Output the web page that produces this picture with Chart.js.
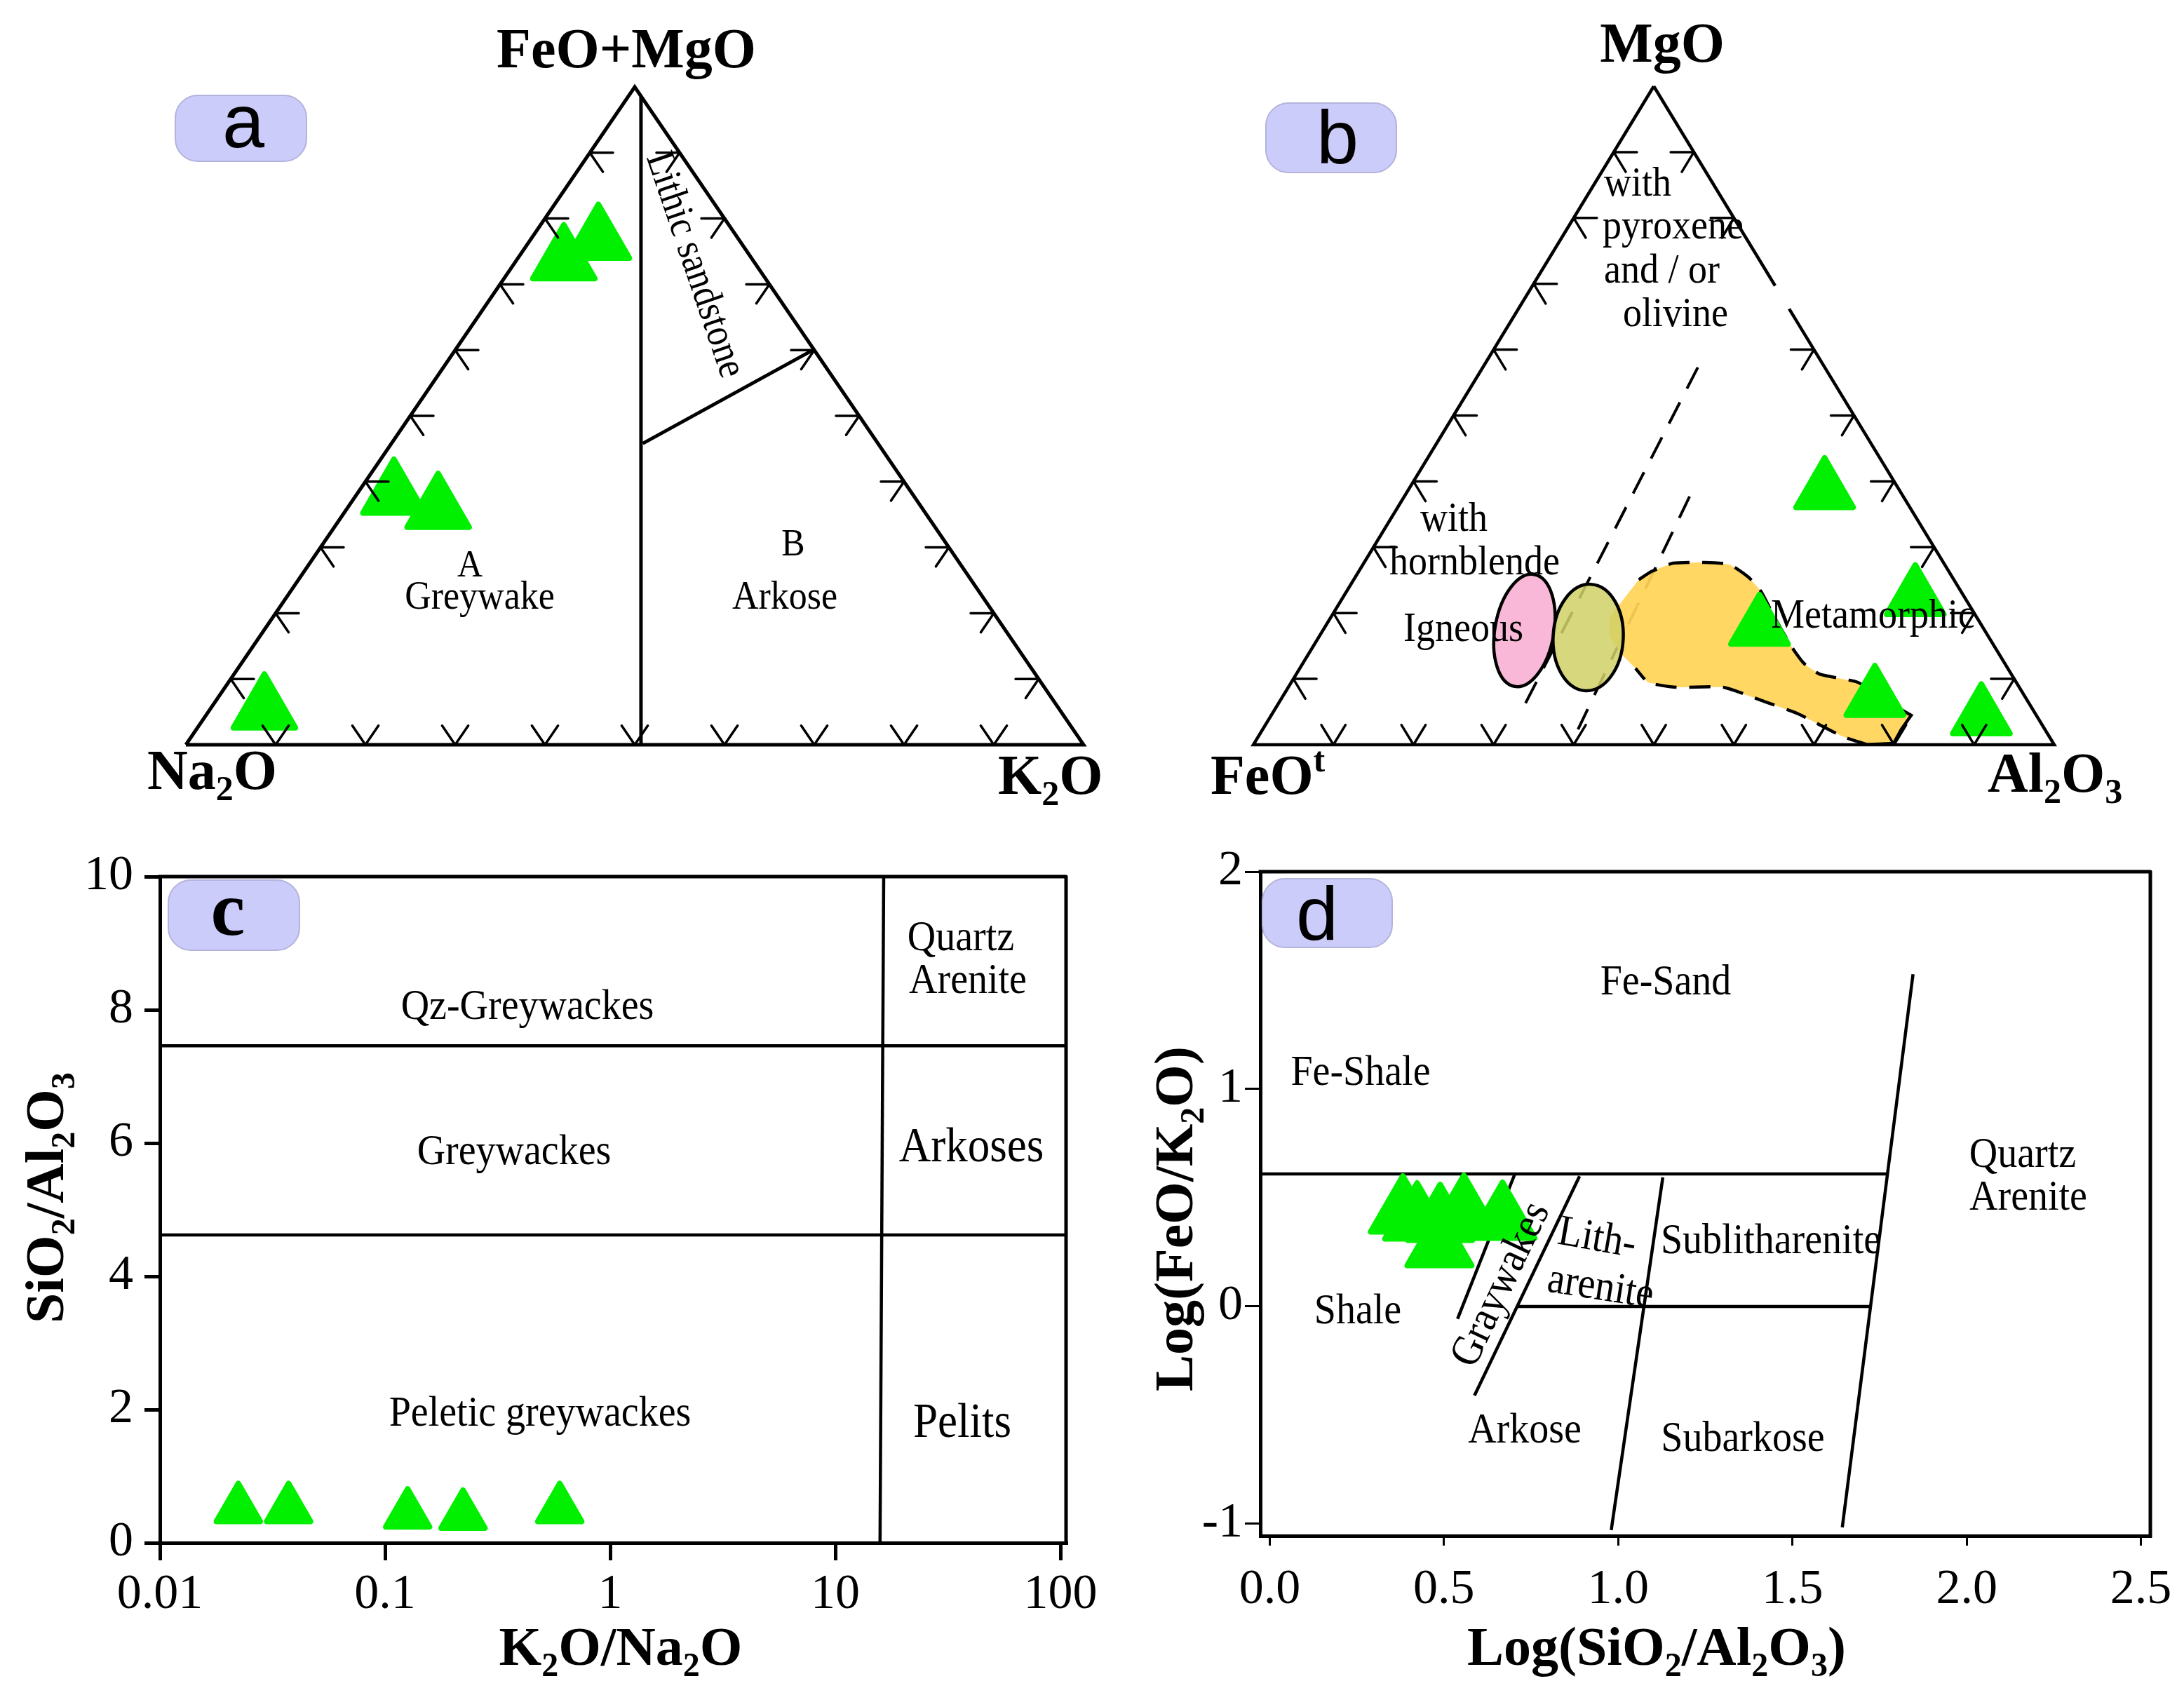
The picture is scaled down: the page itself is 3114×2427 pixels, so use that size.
<!DOCTYPE html>
<html><head><meta charset="utf-8">
<script src="https://cdn.jsdelivr.net/npm/chart.js@4.4.1/dist/chart.umd.min.js"></script>
<style>
html,body{margin:0;padding:0;background:#fff;}
body{width:3114px;height:2427px;position:relative;overflow:hidden;}
canvas{position:absolute;left:0;top:0;width:3114px;height:2427px;}
</style></head><body>
<canvas id="ca" width="3114" height="2427"></canvas>
<canvas id="cb" width="3114" height="2427"></canvas>
<canvas id="cc" width="3114" height="2427"></canvas>
<canvas id="cd" width="3114" height="2427"></canvas>
<script>
// ================= DATA =================
// (a) Na2O - K2O - (FeO+MgO), fractions
const aNa2O   = [0.157, 0.211, 0.579, 0.540, 0.886];
const aK2O    = [0.076, 0.053, 0.042, 0.102, 0.061];
const aFeOMgO = [0.767, 0.736, 0.380, 0.358, 0.053];
// (b) FeOt - Al2O3 - MgO, fractions
const bFeOt  = [0.094, 0.062, 0.279, 0.189, 0.070];
const bAl2O3 = [0.521, 0.715, 0.543, 0.741, 0.888];
const bMgO   = [0.386, 0.223, 0.178, 0.070, 0.042];
// (c) K2O/Na2O vs SiO2/Al2O3
const cK2O_Na2O   = [0.0223, 0.0373, 0.126, 0.222, 0.597];
const cSiO2_Al2O3 = [0.51, 0.51, 0.43, 0.41, 0.51];
// (d) log(SiO2/Al2O3) vs log(FeO/K2O)
const dLogSiO2_Al2O3 = [0.382, 0.423, 0.489, 0.557, 0.668, 0.487];
const dLogFeO_K2O    = [0.429, 0.397, 0.390, 0.432, 0.400, 0.274];
// tick labels
const cXTicks = [0.01, 0.1, 1, 10, 100];
const cYTicks = [0, 2, 4, 6, 8, 10];
const dXTicks = [0, 0.5, 1, 1.5, 2, 2.5];
const dYTicks = [-1, 0, 1, 2];
// field boundaries (ternary diagram units: x along base, y = apex-component fraction)
const aBoundaries = [
  [[0.507, 0.985], [0.507, 0]],
  [[0.509, 0.458], [0.701, 0.602]]
];
const bDashed = [
  [[0.555, 0.573], [0.3366, 0.0554]],
  [[0.5447, 0.377], [0.4054, 0.0234]]
];
const bMetamorphicField = [
  [0.445,0.1938],[0.4813,0.2506],[0.4969,0.2630],[0.5243,0.2758],[0.5630,0.2769],
  [0.5946,0.2737],[0.6182,0.2545],[0.6337,0.2332],[0.6506,0.1938],[0.6725,0.1480],
  [0.6883,0.1225],[0.7080,0.1068],[0.7548,0.0948],[0.7907,0.0660],[0.8214,0.0447],
  [0.8091,0.0234],[0.7995,0.0021],
  [0.7666,0.0003],[0.7356,0.0128],[0.6804,0.0469],[0.6375,0.0660],[0.5867,0.0873],
  [0.5280,0.0873],[0.4930,0.0948],[0.4772,0.1161],[0.4600,0.1374],[0.445,0.1651],
  [0.445,0.1938]
];
const bIgneousCenters = [[0.3385, 0.1736], [0.4181, 0.1629]];
const bIgneousRadii   = [[0.0368, 0.0863], [0.0438, 0.0809]];
const bIgneousTilt    = [10, 3];
const C_XMIN = 0.01, C_XMAX = 105.9;
const cBoundaries = [
  [[C_XMIN, 7.46], [C_XMAX, 7.46]],
  [[C_XMIN, 4.62], [C_XMAX, 4.62]],
  [[16.4, 10], [15.8, 0]]
];
const D_XMIN = -0.027, D_XMAX = 2.527, D_YMIN = -1.055, D_YMAX = 2.0;
const dBoundaries = [
  [[D_XMIN, 0.61], [1.773, 0.61]],
  [[1.846, 1.528], [1.643, -1.016]],
  [[0.712, 0.0], [1.724, 0.0]],
  [[1.128, 0.594], [0.98, -1.029]],
  [[0.889, 0.599], [0.5875, -0.41]],
  [[0.704, 0.612], [0.539, -0.057]]
];

// ================= STYLE / HELPERS =================
const SERIF = "'Liberation Serif','Times New Roman',serif";
const SANS = "'Liberation Sans',Arial,sans-serif";
const GREEN = '#00f000';
const W = 3114, H = 2427;

function tern(left, right, top) {
  const s = left + right + top;
  return { x: (right + top / 2) / s, y: top / s };
}
const xy = p => ({ x: p[0], y: p[1] });

function richText(ctx, parts, x, y, o) {
  const fs = o.size, w8 = o.bold ? 'bold ' : '', fam = o.family || SERIF;
  const fN = w8 + fs + 'px ' + fam, fS = w8 + Math.round(fs * 0.62) + 'px ' + fam;
  let w = 0;
  for (const [t, m] of parts) { ctx.font = m ? fS : fN; w += ctx.measureText(t).width; }
  let cx = o.align === 'center' ? x - w / 2 : (o.align === 'right' ? x - w : x);
  ctx.textAlign = 'left';
  ctx.textBaseline = o.baseline || 'alphabetic';
  ctx.fillStyle = '#000';
  for (const [t, m] of parts) {
    ctx.font = m ? fS : fN;
    const dy = m === 1 ? fs * 0.2 : (m === 2 ? -fs * 0.4 : 0);
    ctx.fillText(t, cx, y + dy);
    cx += ctx.measureText(t).width;
  }
}
// sq: horizontal squeeze (text drawn taller for the same width)
function label(ctx, text, x, y, size, opts = {}) {
  const sq = opts.sq || 1;
  ctx.save();
  ctx.translate(x, y);
  if (opts.rot) ctx.rotate(opts.rot * Math.PI / 180);
  ctx.scale(sq, 1);
  richText(ctx, typeof text === 'string' ? [[text, 0]] : text, 0, 0,
    { size: size / sq, bold: opts.bold, align: opts.align || 'center', baseline: opts.baseline, family: opts.family });
  ctx.restore();
}
function badge(ctx, x, y, w, h, ch, bx, by, font) {
  ctx.save();
  ctx.beginPath(); ctx.roundRect(x, y, w, h, 32);
  ctx.fillStyle = '#ccccfb'; ctx.fill();
  ctx.strokeStyle = '#b3b3dc'; ctx.lineWidth = 2; ctx.stroke();
  ctx.fillStyle = '#000'; ctx.font = font; ctx.textAlign = 'center'; ctx.textBaseline = 'alphabetic';
  ctx.fillText(ch, bx, by);
  ctx.restore();
}
function ternTicks(chart, gap) {
  const { ctx } = chart, sx = chart.scales.x, sy = chart.scales.y;
  const P = (u, v) => [sx.getPixelForValue(u), sy.getPixelForValue(v)];
  const L = P(0, 0), R = P(1, 0), A = P(0.5, 1);
  const nrm = v => { const l = Math.hypot(v[0], v[1]); return [v[0] / l, v[1] / l]; };
  const dLA = nrm([A[0] - L[0], A[1] - L[1]]), dRA = nrm([A[0] - R[0], A[1] - R[1]]);
  const len = 33;
  ctx.save(); ctx.strokeStyle = '#000'; ctx.lineWidth = 3.5; ctx.lineCap = 'round'; ctx.beginPath();
  const stub = (p, d) => { ctx.moveTo(p[0], p[1]); ctx.lineTo(p[0] + d[0] * len, p[1] + d[1] * len); };
  for (let k = 1; k <= 9; k++) {
    const f = k / 10;
    const pb = P(f, 0); stub(pb, dLA); stub(pb, dRA);
    const pl = P(f / 2, f); stub(pl, [1, 0]); stub(pl, [-dRA[0], -dRA[1]]);
    if (!(gap && f >= gap[0] - 0.01 && f <= gap[1] + 0.01)) {
      const pr = P(1 - f / 2, f); stub(pr, [-1, 0]); stub(pr, [-dLA[0], -dLA[1]]);
    }
  }
  ctx.stroke(); ctx.restore();
}
function deco(hooks) {
  return {
    id: 'deco',
    beforeDatasetDraw(chart, args) {
      if (args.index === 0) {
        chart.ctx.lineJoin = 'round';
        if (hooks.beforePoints) hooks.beforePoints(chart);
      }
    },
    afterDatasetsDraw(chart) {
      const ctx = chart.ctx;
      ctx.save(); hooks.after(ctx, chart); ctx.restore();
    }
  };
}
function lineDS(pts, extra = {}) {
  return Object.assign({ type: 'line', data: pts.map(xy), showLine: true, pointRadius: 0,
    borderColor: '#000', borderWidth: 5, fill: false, tension: 0, clip: false }, extra);
}
function pointDS(pts, r) {
  return { type: 'line', data: pts, showLine: false, pointStyle: 'triangle', pointRadius: r,
    pointHoverRadius: r, backgroundColor: GREEN, borderColor: GREEN, pointBorderWidth: 8,
    borderWidth: 8, clip: false };
}
const hidden = (min, max) => ({ type: 'linear', min, max, display: false });
const baseOpts = (padding, scales) => ({
  responsive: false, animation: false, events: [], devicePixelRatio: 1,
  layout: { padding, autoPadding: false },
  plugins: { legend: { display: false }, tooltip: { enabled: false } },
  scales
});
function axisCommon(extra) {
  return Object.assign({ border: { display: true, color: '#000', width: 5 } }, extra);
}
function frameTopRight(chart) {
  const { ctx, chartArea: a } = chart;
  ctx.save(); ctx.strokeStyle = '#000'; ctx.lineWidth = 5; ctx.lineCap = 'square';
  ctx.beginPath(); ctx.moveTo(a.left, a.top); ctx.lineTo(a.right, a.top); ctx.lineTo(a.right, a.bottom); ctx.stroke();
  ctx.restore();
}
const SQ = 0.9;

// ================= PANEL A =================
new Chart(document.getElementById('ca'), {
  type: 'line',
  data: { datasets: [
    pointDS(aNa2O.map((n, i) => tern(n, aK2O[i], aFeOMgO[i])), 51),
    lineDS([[0, 0], [1, 0], [0.5, 1], [0, 0]], { borderWidth: 5 }),
    ...aBoundaries.map(b => lineDS(b))
  ]},
  options: baseOpts({ left: 265, right: W - 1545, top: 124, bottom: H - 1062 }, { x: hidden(0, 1), y: hidden(0, 1) }),
  plugins: [deco({
    after: (ctx, chart) => {
      ternTicks(chart);
      label(ctx, [['FeO+MgO', 0]], 893, 96, 80, { bold: true });
      label(ctx, [['Na', 0], ['2', 1], ['O', 0]], 210, 1125, 80, { bold: true, align: 'left' });
      label(ctx, [['K', 0], ['2', 1], ['O', 0]], 1423, 1132, 80, { bold: true, align: 'left' });
      label(ctx, 'A', 670, 822, 50, { sq: SQ });
      label(ctx, 'Greywake', 684, 868, 52, { sq: SQ });
      label(ctx, 'B', 1131, 792, 50, { sq: SQ });
      label(ctx, 'Arkose', 1119, 868, 52, { sq: SQ });
      label(ctx, 'Lithic sandstone', 990, 378, 51, { rot: 71.2, baseline: 'middle', sq: 0.88 });
      badge(ctx, 250, 136, 187, 94, 'a', 347, 210, '108px ' + SANS);
    }
  })]
});

// ================= PANEL B =================
const gapB = [0.662, 0.697];
const outline = { borderWidth: 4.5, borderDash: [30, 18] };
new Chart(document.getElementById('cb'), {
  type: 'line',
  data: { datasets: [
    pointDS(bFeOt.map((f, i) => tern(f, bAl2O3[i], bMgO[i])), 47),
    lineDS([[0.5, 1], [0, 0], [1, 0], [1 - gapB[0] / 2, gapB[0]]], { borderWidth: 4.5 }),
    lineDS([[1 - gapB[1] / 2, gapB[1]], [0.5, 1]], { borderWidth: 4.5 }),
    // outline of the metamorphic field: smooth upper part, angular tail tip, smooth lower part
    lineDS(bMetamorphicField.slice(1, 14), Object.assign({ tension: 0.18 }, outline)),
    lineDS(bMetamorphicField.slice(13, 18), { borderWidth: 4.5, tension: 0 }),
    lineDS(bMetamorphicField.slice(17, 25), Object.assign({ tension: 0.18 }, outline)),
    // metamorphic field fill
    lineDS(bMetamorphicField, { fill: 'shape', backgroundColor: 'rgba(255,212,86,0.93)', tension: 0.08,
      borderWidth: 0, borderColor: 'rgba(0,0,0,0)' }),
    ...bDashed.map(b => lineDS(b, { borderWidth: 4, borderDash: [34, 22] }))
  ]},
  options: baseOpts({ left: 1787, right: W - 2929, top: 123, bottom: H - 1062 }, { x: hidden(0, 1), y: hidden(0, 1) }),
  plugins: [deco({
    beforePoints: chart => {
      const { ctx } = chart, sx = chart.scales.x, sy = chart.scales.y;
      const fills = ['rgba(248,178,212,0.92)', 'rgba(208,208,104,0.86)'];
      bIgneousCenters.forEach((c, i) => {
        const px = sx.getPixelForValue(c[0]), py = sy.getPixelForValue(c[1]);
        const rx = Math.abs(sx.getPixelForValue(c[0] + bIgneousRadii[i][0]) - px);
        const ry = Math.abs(sy.getPixelForValue(c[1] + bIgneousRadii[i][1]) - py);
        ctx.save(); ctx.beginPath();
        ctx.ellipse(px, py, rx, ry, bIgneousTilt[i] * Math.PI / 180, 0, Math.PI * 2);
        ctx.fillStyle = fills[i]; ctx.fill();
        ctx.strokeStyle = '#000'; ctx.lineWidth = 4.5; ctx.stroke(); ctx.restore();
      });
    },
    after: (ctx, chart) => {
      ternTicks(chart, gapB);
      label(ctx, [['MgO', 0]], 2370, 88, 80, { bold: true });
      label(ctx, [['FeO', 0], ['t', 2]], 1726, 1132, 80, { bold: true, align: 'left' });
      label(ctx, [['Al', 0], ['2', 1], ['O', 0], ['3', 1]], 2834, 1129, 80, { bold: true, align: 'left' });
      const L = { align: 'left', sq: SQ };
      label(ctx, 'with', 2287, 279, 54, L);
      label(ctx, 'pyroxene', 2285, 340, 54, L);
      label(ctx, 'and / or', 2287, 403, 54, L);
      label(ctx, 'olivine', 2314, 465, 54, L);
      label(ctx, 'with', 2025, 757, 54, L);
      label(ctx, 'hornblende', 1981, 819, 54, L);
      label(ctx, 'Igneous', 2001, 914, 54, L);
      label(ctx, 'Metamorphic', 2525, 895, 54, L);
      badge(ctx, 1805, 147, 186, 99, 'b', 1907, 233, '108px ' + SANS);
    }
  })]
});

// ================= PANEL C =================
new Chart(document.getElementById('cc'), {
  type: 'line',
  data: { datasets: [
    pointDS(cK2O_Na2O.map((v, i) => ({ x: v, y: cSiO2_Al2O3[i] })), 36),
    ...cBoundaries.map(b => lineDS(b, { borderWidth: 4.5 }))
  ]},
  options: baseOpts({ left: 0, right: W - 1520, top: 1250, bottom: 0 }, {
    x: axisCommon({ type: 'logarithmic', min: C_XMIN, max: C_XMAX, position: 'bottom',
      afterBuildTicks: s => { s.ticks = cXTicks.map(v => ({ value: v })); },
      afterFit: s => { s.height = H - 2200; s.paddingLeft = 0; s.paddingRight = 0; },
      ticks: { callback: v => String(v), font: { family: SERIF, size: 70 }, color: '#000', padding: 8, maxRotation: 0, autoSkip: false },
      grid: { display: true, drawOnChartArea: false, drawTicks: true, tickLength: 25, color: '#000', lineWidth: 5 } }),
    y: axisCommon({ type: 'linear', min: 0, max: 10, position: 'left',
      afterBuildTicks: s => { s.ticks = cYTicks.map(v => ({ value: v })); },
      afterFit: s => { s.width = 228; s.paddingTop = 0; s.paddingBottom = 0; },
      ticks: { font: { family: SERIF, size: 70 }, color: '#000', padding: 16, autoSkip: false },
      grid: { display: true, drawOnChartArea: false, drawTicks: true, tickLength: 22, color: '#000', lineWidth: 5 } })
  }),
  plugins: [deco({
    after: (ctx, chart) => {
      frameTopRight(chart);
      const M = { baseline: 'middle', sq: SQ };
      label(ctx, 'Qz-Greywackes', 752, 1437, 56, M);
      label(ctx, 'Greywackes', 733, 1644, 56, M);
      label(ctx, 'Peletic greywackes', 770, 2017, 56, M);
      label(ctx, 'Quartz', 1370, 1339, 56, M);
      label(ctx, 'Arenite', 1380, 1400, 56, M);
      label(ctx, 'Arkoses', 1385, 1638, 63, M);
      label(ctx, 'Pelits', 1372, 2031, 63, M);
      label(ctx, [['K', 0], ['2', 1], ['O/Na', 0], ['2', 1], ['O', 0]], 885, 2374, 78, { bold: true });
      label(ctx, [['SiO', 0], ['2', 1], ['/Al', 0], ['2', 1], ['O', 0], ['3', 1]], 90, 1708, 78, { bold: true, rot: -90 });
      badge(ctx, 240, 1255, 187, 100, 'c', 325, 1333, 'bold 110px ' + SERIF);
    }
  })]
});

// ================= PANEL D =================
new Chart(document.getElementById('cd'), {
  type: 'line',
  data: { datasets: [
    pointDS(dLogSiO2_Al2O3.map((v, i) => ({ x: v, y: dLogFeO_K2O[i] })), 53),
    ...dBoundaries.map(b => lineDS(b, { borderWidth: 4.5 }))
  ]},
  options: baseOpts({ left: 1557, right: W - 3066, top: 1243, bottom: 0 }, {
    x: axisCommon({ type: 'linear', min: D_XMIN, max: D_XMAX, position: 'bottom',
      afterBuildTicks: s => { s.ticks = dXTicks.map(v => ({ value: v })); },
      afterFit: s => { s.height = H - 2190; s.paddingLeft = 0; s.paddingRight = 0; },
      ticks: { callback: v => v.toFixed(1), font: { family: SERIF, size: 70 }, color: '#000', padding: 22, maxRotation: 0, autoSkip: false },
      grid: { display: true, drawOnChartArea: false, drawTicks: true, tickLength: 14, color: '#000', lineWidth: 3 } }),
    y: axisCommon({ type: 'linear', min: D_YMIN, max: D_YMAX, position: 'left',
      afterBuildTicks: s => { s.ticks = dYTicks.map(v => ({ value: v })); },
      afterFit: s => { s.width = 240; s.paddingTop = 0; s.paddingBottom = 0; },
      ticks: { callback: v => String(v), font: { family: SERIF, size: 70 }, color: '#000', padding: 3, autoSkip: false },
      grid: { display: true, drawOnChartArea: false, drawTicks: true, tickLength: 22, color: '#000', lineWidth: 3 } })
  }),
  plugins: [deco({
    after: (ctx, chart) => {
      frameTopRight(chart);
      const M = { baseline: 'middle', sq: SQ };
      label(ctx, 'Fe-Sand', 2375, 1402, 56, M);
      label(ctx, 'Fe-Shale', 1940, 1531, 56, M);
      label(ctx, 'Quartz', 2884, 1648, 56, M);
      label(ctx, 'Arenite', 2892, 1709, 56, M);
      label(ctx, 'Sublitharenite', 2525, 1771, 56, M);
      label(ctx, 'Shale', 1936, 1871, 56, M);
      label(ctx, 'Arkose', 2174, 2041, 56, M);
      label(ctx, 'Subarkose', 2485, 2053, 56, M);
      label(ctx, 'Lith-', 2277, 1767, 56, { baseline: 'middle', rot: 10, sq: SQ });
      label(ctx, 'arenite', 2282, 1837, 56, { baseline: 'middle', rot: 9, sq: SQ });
      label(ctx, 'Graywakes', 2141, 1832, 56, { baseline: 'middle', rot: -64.6, sq: SQ });
      label(ctx, [['Log(SiO', 0], ['2', 1], ['/Al', 0], ['2', 1], ['O', 0], ['3', 1], [')', 0]], 2362, 2374, 78, { bold: true });
      label(ctx, [['Log(FeO/K', 0], ['2', 1], ['O)', 0]], 1700, 1738, 78, { bold: true, rot: -90 });
      badge(ctx, 1800, 1253, 185, 98, 'd', 1878, 1340, '108px ' + SANS);
    }
  })]
});
</script>
</body></html>
